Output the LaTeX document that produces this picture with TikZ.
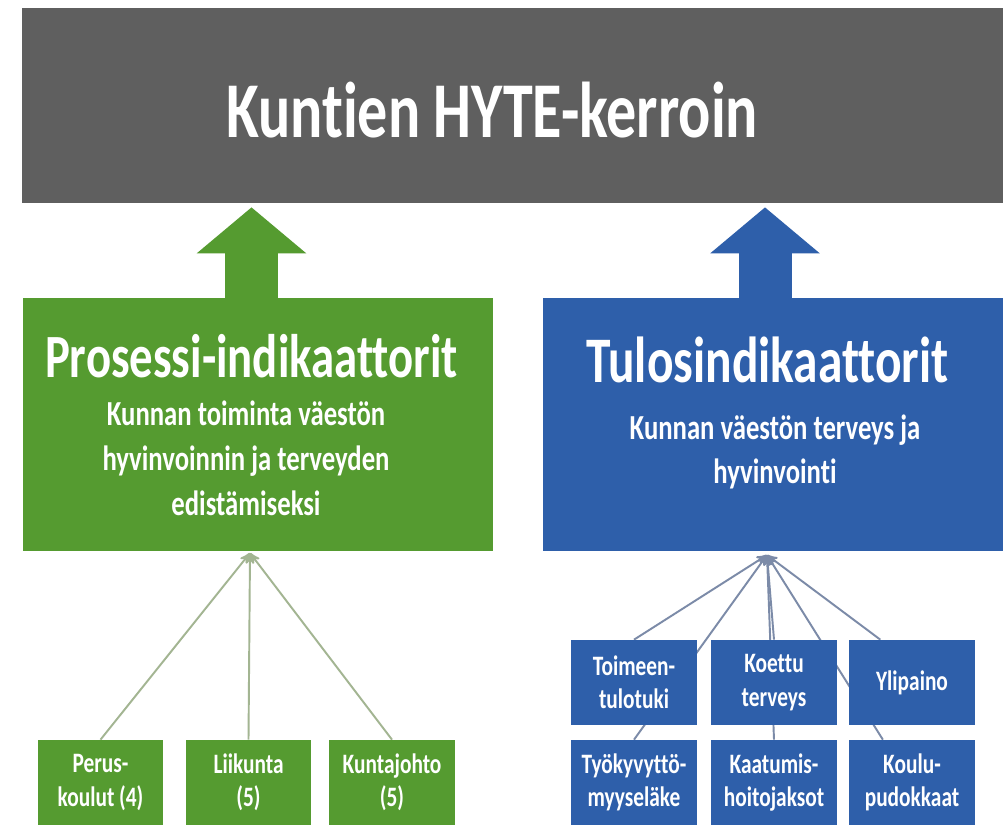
\documentclass[tikz,border=0pt]{standalone}
\usepackage{fontspec}
\setmainfont{Carlito}[FakeStretch=0.76, Ligatures={NoCommon, NoRare}, Contextuals=NoAlternate]
\usetikzlibrary{arrows, arrows.meta, backgrounds, calc}

\definecolor{hytegray}{HTML}{5F5F5F}
\definecolor{hytegreen}{HTML}{559B30}
\definecolor{hyteblue}{HTML}{2E5FAA}
\definecolor{linkgreen}{HTML}{A3B592}
\definecolor{linkblue}{HTML}{7C8BA8}

\begin{document}
\begin{tikzpicture}[x=0.02cm, y=-0.02cm, >=stealth', text=white, font=\bfseries]
	\tikzstyle{bigbox}=[inner sep=0pt, minimum height=5.06cm]
	\tikzstyle{smallbox}=[inner sep=0pt, minimum width=2.52cm, minimum height=1.7cm, align=center, font=\bfseries\fontsize{16}{19}\selectfont]
	\tikzstyle{subtext}=[align=center, font=\bfseries\fontsize{20}{25.5}\selectfont]
	\tikzstyle{glink}=[->, draw=linkgreen, line width=1.1pt]
	\tikzstyle{blink}=[->, draw=linkblue, line width=1.1pt]
	\tikzstyle{blockarrow}=[line width=1.06cm, -{Triangle[width=2.14cm, length=0.92cm]}, shorten >=0.08cm]

	\useasboundingbox (0, 0) rectangle (1003, 825);

	\node[fill=hytegray, inner sep=0pt, minimum width=19.62cm, minimum height=3.9cm] at (512.5, 105.5) (kerroin) {};
	\node[anchor=base, font=\bfseries\fontsize{45}{54}\selectfont] at (492, 137) (kerrointext) {Kuntien HYTE-kerroin};

	\node[bigbox, fill=hytegreen, minimum width=9.4cm] at (258, 424.5) (prosessi) {};
	\node[anchor=base, font=\bfseries\fontsize{35}{42}\selectfont] at (251.5, 377) (prosessititle) {Prosessi-indikaattorit};
	\node[subtext] at (246, 458) (prosessisub) {Kunnan toiminta väestön\\hyvinvoinnin ja terveyden\\edistämiseksi};

	\node[bigbox, fill=hyteblue, minimum width=9.2cm] at (773, 424.5) (tulos) {};
	\node[anchor=base, font=\bfseries\fontsize{37}{44}\selectfont] at (767.5, 382) (tulostitle) {Tulosindikaattorit};
	\node[subtext] at (775, 452) (tulossub) {Kunnan väestön terveys ja\\hyvinvointi};

	\draw[blockarrow, hytegreen] (251.5, 0 |- prosessi.north) -- (251.5, 0 |- kerroin.south);
	\draw[blockarrow, hyteblue] (765, 0 |- tulos.north) -- (765, 0 |- kerroin.south);

	\node[smallbox, fill=hytegreen] at (100.5, 782.5) (perus) {Perus-\\koulut (4)};
	\node[smallbox, fill=hytegreen] at (248.5, 782.5) (liikunta) {Liikunta\\(5)};
	\node[smallbox, fill=hytegreen] at (392, 782.5) (kuntajohto) {Kuntajohto\\(5)};

	\node[smallbox, fill=hyteblue] at (634, 682.5) (toimeen) {Toimeen-\\tulotuki};
	\node[smallbox, fill=hyteblue] at (774, 682.5) (koettu) {Koettu\\terveys};
	\node[smallbox, fill=hyteblue] at (912, 682.5) (ylipaino) {Ylipaino};
	\node[smallbox, fill=hyteblue] at (634, 782.5) (tyokyky) {Työkyvyttö-\\myyseläke};
	\node[smallbox, fill=hyteblue] at (774, 782.5) (kaatumis) {Kaatumis-\\hoitojaksot};
	\node[smallbox, fill=hyteblue] at (912, 782.5) (koulu) {Koulu-\\pudokkaat};

	\coordinate (gjoin) at (250, 553);
	\coordinate (bjoin) at (767, 555);

	\begin{pgfonlayer}{background}
		\fill[white] (0, 0) rectangle (1003, 825);
		\draw[glink] (perus.north) -- (gjoin);
		\draw[glink] (liikunta.north) -- (gjoin);
		\draw[glink] (kuntajohto.north) -- (gjoin);
		\draw[blink] (toimeen.north) -- (bjoin);
		\draw[blink] (tyokyky.north) -- (bjoin);
		\draw[blink] (koettu.north) -- (bjoin);
		\draw[blink] (kaatumis.north) -- (bjoin);
		\draw[blink] ($(ylipaino.north west)!0.25!(ylipaino.north east)$) -- (bjoin);
		\draw[blink] ($(koulu.north west)!0.27!(koulu.north east)$) -- (bjoin);
	\end{pgfonlayer}
\end{tikzpicture}
\end{document}
